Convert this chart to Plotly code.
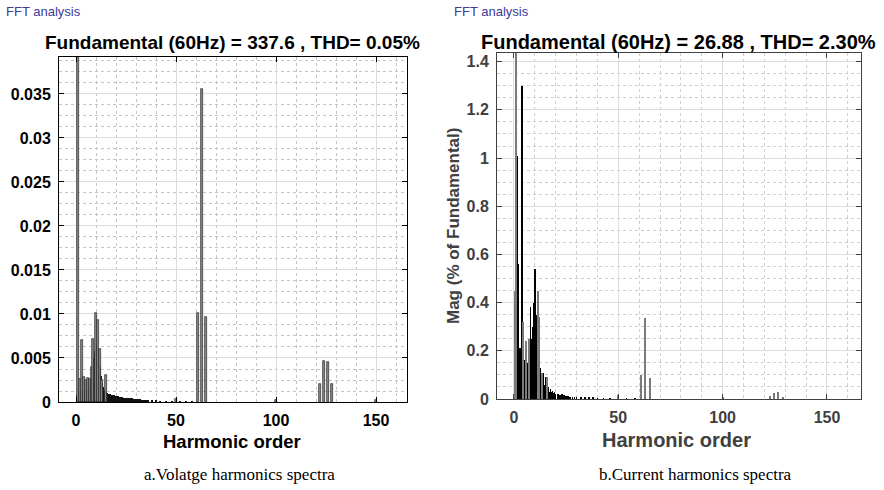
import plotly.graph_objects as go

# ---------------- data: voltage spectrum (panel a) ----------------
v_dense_orders = [0.5, 1.5, 2.0, 2.5, 3.0, 3.5, 4.0, 4.5, 5.0, 5.5, 6.0, 6.5, 7.0, 7.5,
                  8.0, 8.5, 9.0, 9.5, 10.0, 10.5, 11.0, 11.5, 12.0, 12.5, 13.0, 13.5,
                  14.0, 14.5, 15.0, 15.5, 16.0, 17, 18, 19, 20, 21, 22, 23, 24, 25, 26,
                  27, 28, 29, 30, 31, 32, 33, 34, 35, 36, 38, 40, 42, 45, 48, 52, 55, 58]
v_dense_mags = [0.0008, 0.0009, 0.0012, 0.0010, 0.0013, 0.0011, 0.0014, 0.0012, 0.0015,
                0.0013, 0.0016, 0.0014, 0.0018, 0.0022, 0.0030, 0.0042, 0.0050, 0.0058,
                0.0064, 0.0066, 0.0060, 0.0052, 0.0040, 0.0030, 0.0022, 0.0017, 0.0014,
                0.0012, 0.0011, 0.0010, 0.0009, 0.0009, 0.0008, 0.0008, 0.0007, 0.0007,
                0.0006, 0.0006, 0.0005, 0.0005, 0.0004, 0.0004, 0.0004, 0.0003, 0.0003,
                0.0003, 0.0003, 0.0002, 0.0002, 0.0002, 0.0002, 0.00015, 0.00015, 0.0001,
                0.0001, 0.0001, 0.0001, 0.0001, 0.0001]
v_peak_orders = [1, 2, 3, 4, 5, 6, 7, 8, 8.5, 10, 11, 12, 13, 15, 50,
                 61, 63, 65, 100, 122, 124, 126, 128, 150]
v_peak_mags = [1.0, 0.0026, 0.0070, 0.0028, 0.0025, 0.0027, 0.0026, 0.0040, 0.0072,
               0.0101, 0.0093, 0.0060, 0.0025, 0.0031, 0.0003,
               0.0101, 0.0356, 0.0097, 0.0002, 0.0021, 0.0047, 0.0045, 0.0021, 0.0002]

# ---------------- data: current spectrum (panel b) ----------------
i_dense_orders = [0.25, 0.5, 0.75, 1.25, 1.5, 1.75, 2.0, 2.25, 2.5, 2.75, 3.0, 3.25, 3.5,
                  3.75, 4.0, 4.25, 4.5, 4.75, 5.0, 5.25, 5.5, 5.75, 6.0, 6.25, 6.5, 6.75,
                  7.0, 7.25, 7.5, 7.75, 8.0, 8.25, 8.5, 8.75, 9.0, 9.25, 9.5, 9.75, 10.0,
                  10.25, 10.5, 10.75, 11.0, 11.25, 11.5, 11.75, 12.0, 12.25, 12.5, 12.75,
                  13.0, 13.25, 13.5, 13.75, 14.0, 14.25, 14.5, 14.75, 15.0, 15.5, 16.0,
                  16.5, 17.0, 17.5, 18.0, 18.5, 19.0, 19.5, 20.0, 21, 22, 23, 24, 25, 26,
                  27, 28, 29, 30, 32, 34, 36, 38, 40, 43, 46, 50, 54, 58]
i_dense_mags = [0.27, 0.25, 0.27, 0.26, 0.30, 1.01, 0.28, 0.56, 0.20, 0.18, 0.21, 0.17,
                0.12, 1.30, 0.16, 0.08, 0.18, 0.14, 0.16, 0.12, 0.10, 0.17, 0.13, 0.07,
                0.11, 0.15, 0.12, 0.09, 0.14, 0.10, 0.38, 0.21, 0.16, 0.25, 0.23, 0.30,
                0.20, 0.40, 0.26, 0.54, 0.35, 0.22, 0.28, 0.19, 0.24, 0.15, 0.20, 0.09,
                0.13, 0.07, 0.11, 0.05, 0.08, 0.06, 0.11, 0.05, 0.06, 0.04, 0.05, 0.09,
                0.04, 0.05, 0.03, 0.04, 0.03, 0.035, 0.025, 0.03, 0.02, 0.022, 0.018,
                0.02, 0.015, 0.012, 0.012, 0.01, 0.009, 0.008, 0.008, 0.006, 0.006,
                0.005, 0.005, 0.004, 0.004, 0.003, 0.015, 0.003, 0.003]
i_peak_orders = [1, 0.6, 4.6, 5.6, 7.2, 11.7, 12.2, 13.5, 15.9, 50, 61, 63, 65,
                 100, 122.7, 124.8, 126.7, 128.8]
i_peak_mags = [100.0, 0.45, 0.32, 0.24, 0.25, 0.45, 0.34, 0.11, 0.09, 0.015, 0.10,
               0.335, 0.087, 0.01, 0.012, 0.026, 0.027, 0.008]

x_ticks = [0, 50, 100, 150]
v_y_ticks = [0, 0.005, 0.01, 0.015, 0.02, 0.025, 0.03, 0.035]
v_y_labels = ["0", "0.005", "0.01", "0.015", "0.02", "0.025", "0.03", "0.035"]
i_y_ticks = [0, 0.2, 0.4, 0.6, 0.8, 1.0, 1.2, 1.4]
i_y_labels = ["0", "0.2", "0.4", "0.6", "0.8", "1", "1.2", "1.4"]

W, H = 884, 490
def px(x): return x / W
def py(y): return 1 - y / H

FONT = "Liberation Sans, Arial, sans-serif"
SERIF = "Liberation Serif, Times New Roman, serif"

fig = go.Figure()
fig.add_trace(go.Bar(x=v_dense_orders, y=v_dense_mags, width=1.0, xaxis="x", yaxis="y",
                     marker=dict(color="#111111", line=dict(width=0)), showlegend=False))
fig.add_trace(go.Bar(x=v_peak_orders, y=v_peak_mags, width=1.0, xaxis="x", yaxis="y",
                     marker=dict(color="#8a8a8a", line=dict(width=0.7, color="#2a2a2a")),
                     showlegend=False))
fig.add_trace(go.Bar(x=i_dense_orders, y=i_dense_mags, width=0.3, xaxis="x2", yaxis="y2",
                     marker=dict(color="#000000", line=dict(width=0)), showlegend=False))
fig.add_trace(go.Bar(x=i_peak_orders, y=i_peak_mags, width=0.5, xaxis="x2", yaxis="y2",
                     marker=dict(color="#7a7a7a", line=dict(width=0)), showlegend=False))

def axis_common(color, lcolor, size):
    return dict(showline=True, linecolor=lcolor, linewidth=1, mirror="ticks",
                ticks="inside", ticklen=5, tickcolor=lcolor, zeroline=False,
                automargin=False, showgrid=True, gridcolor="#dcdcdc", gridwidth=1,
                tickfont=dict(family=FONT, size=size, color=color, weight="bold"))

xa = axis_common("#000000", "#000000", 16)
xa.update(domain=[px(59), px(407)], range=[-8.5, 165.5], tickvals=x_ticks, anchor="y",
          ticklabelstandoff=4,
          minor=dict(dtick=10, tick0=0, showgrid=True, gridcolor="#c4c4c4", griddash="dot", ticks=""))
ya = axis_common("#000000", "#000000", 16)
ya.update(domain=[py(402), py(57)], range=[0, 0.0392], tickvals=v_y_ticks, ticktext=v_y_labels,
          anchor="x", ticklabelstandoff=4,
          minor=dict(dtick=0.00125, tick0=0, showgrid=True, gridcolor="#c4c4c4", griddash="dot", ticks=""))
xb = axis_common("#404040", "#404040", 16)
xb.update(domain=[px(497), px(861)], range=[-8.1, 166.3], tickvals=x_ticks, anchor="y2",
          ticklabelstandoff=4,
          minor=dict(dtick=10, tick0=0, showgrid=True, gridcolor="#cfcfcf", griddash="dot", ticks=""))
yb = axis_common("#404040", "#404040", 16)
yb.update(domain=[py(399), py(53)], range=[0, 1.436], tickvals=i_y_ticks, ticktext=i_y_labels,
          anchor="x2", ticklabelstandoff=4,
          minor=dict(dtick=0.05, tick0=0, showgrid=True, gridcolor="#cfcfcf", griddash="dot", ticks=""))

annotations = [
    dict(x=px(4), y=py(12), text="FFT analysis", xanchor="left", yanchor="middle",
         font=dict(family=FONT, size=13, color="#3b3b9c")),
    dict(x=px(452), y=py(12), text="FFT analysis", xanchor="left", yanchor="middle",
         font=dict(family=FONT, size=13, color="#3b3b9c")),
    dict(x=px(232), y=py(42), text="<b>Fundamental (60Hz) = 337.6 , THD= 0.05%</b>",
         xanchor="center", yanchor="middle", font=dict(family=FONT, size=19, color="#000000")),
    dict(x=px(678), y=py(42), text="<b>Fundamental (60Hz) = 26.88 , THD= 2.30%</b>",
         xanchor="center", yanchor="middle", font=dict(family=FONT, size=20, color="#000000")),
    dict(x=px(232), y=py(441), text="<b>Harmonic order</b>", xanchor="center", yanchor="middle",
         font=dict(family=FONT, size=18.5, color="#000000")),
    dict(x=px(676), y=py(440), text="<b>Harmonic order</b>", xanchor="center", yanchor="middle",
         font=dict(family=FONT, size=20, color="#404040")),
    dict(x=px(453), y=py(226), text="<b>Mag (% of Fundamental)</b>", textangle=-90,
         xanchor="center", yanchor="middle", font=dict(family=FONT, size=17, color="#404040")),
    dict(x=px(240), y=py(474), text="a.Volatge harmonics spectra", xanchor="center",
         yanchor="middle", font=dict(family=SERIF, size=17, color="#000000")),
    dict(x=px(695), y=py(474), text="b.Current harmonics spectra", xanchor="center",
         yanchor="middle", font=dict(family=SERIF, size=17, color="#000000")),
]
for a in annotations:
    a.update(xref="paper", yref="paper", showarrow=False)

fig.update_layout(width=W, height=H, margin=dict(l=0, r=0, t=0, b=0, pad=0),
                  paper_bgcolor="white", plot_bgcolor="white", barmode="overlay",
                  bargap=0, xaxis=xa, yaxis=ya, xaxis2=xb, yaxis2=yb,
                  annotations=annotations)

fig.write_html("out.html", config={"displayModeBar": False},
               post_script="document.body.style.margin='0px';document.body.style.padding='0px';")
